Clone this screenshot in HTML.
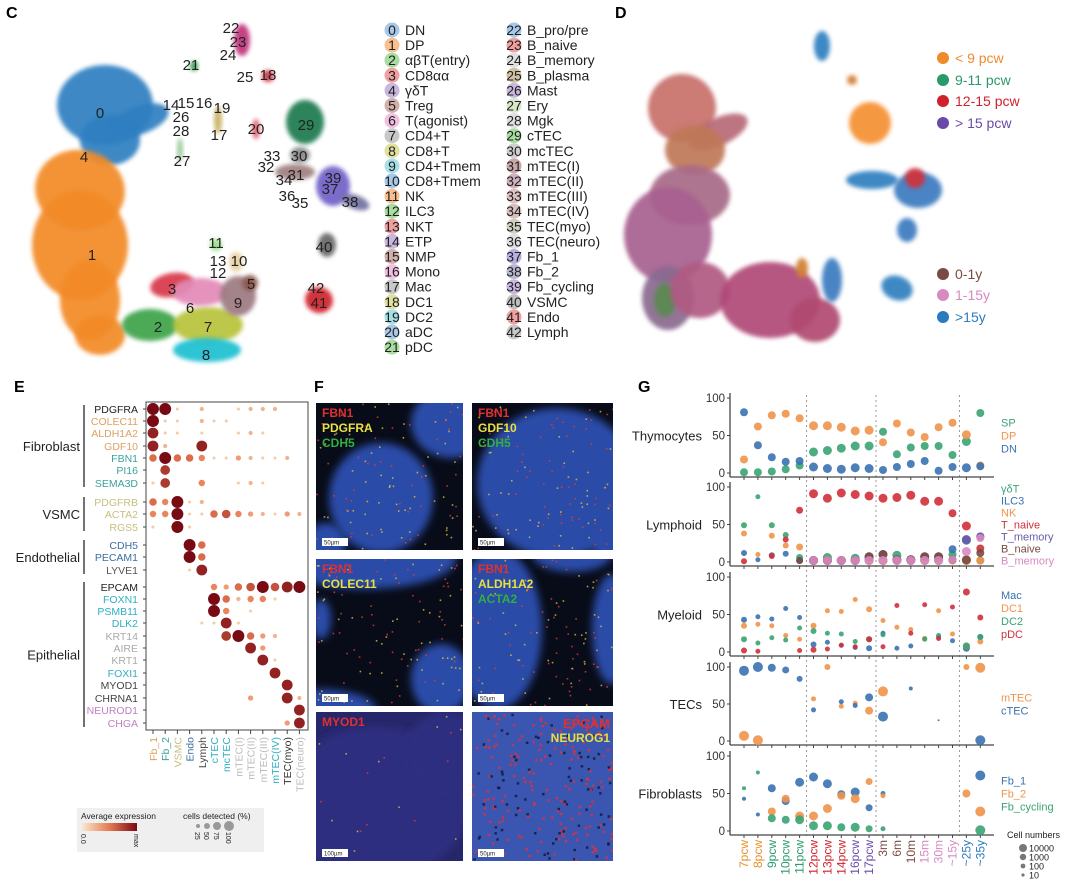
<!DOCTYPE html>
<html><head><meta charset="utf-8"><style>
body{margin:0;background:#fff;}
svg{display:block;font-family:"Liberation Sans",sans-serif;}
</style></head><body>
<svg id="fig" width="1080" height="895" viewBox="0 0 1080 895" xmlns="http://www.w3.org/2000/svg">
<defs>
<filter id="soft" x="-30%" y="-30%" width="160%" height="160%"><feGaussianBlur stdDeviation="4"/></filter>
<filter id="soft2" x="-30%" y="-30%" width="160%" height="160%"><feGaussianBlur stdDeviation="2"/></filter>
</defs>
<g font-weight="bold" font-size="16">
<text x="6" y="18">C</text>
<text x="615" y="18">D</text>
<text x="14" y="392">E</text>
<text x="314" y="392">F</text>
<text x="638" y="392">G</text>
</g>
<g id="umapC"></g>
<g id="legC"></g>
<g id="umapD"></g>
<g id="legD"></g>
<g id="dotE"></g>
<g id="panF"></g>
<g id="chartG"></g>
</svg>
<script>
const NS="http://www.w3.org/2000/svg";
function mk(tag,attrs,parent,txt){const e=document.createElementNS(NS,tag);for(const k in attrs)e.setAttribute(k,attrs[k]);if(txt!==undefined)e.textContent=txt;parent.appendChild(e);return e;}

// ---------- Panel C ----------
const gC=document.getElementById('umapC');
const blobsC=[
[105,105,48,40,'#2f7fc1',0],[110,140,30,25,'#2f7fc1',0],[140,120,30,14,'#2f7fc1',-20],
[80,190,45,40,'#f28a25',10],[80,245,48,55,'#f28a25',0],[90,300,30,40,'#f28a25',0],[100,335,25,20,'#f28a25',0],
[150,325,28,16,'#3da34a',0],[208,325,35,18,'#b8c33a',0],[207,350,34,12,'#1fbfd0',0],[172,285,22,12,'#d8394a',-10],
[200,292,28,14,'#e38ab8',0],[238,296,18,20,'#9c7a82',0],[250,283,8,8,'#8c564b',0],[216,245,6,6,'#98df8a',0],[236,262,7,10,'#e8d0a0',0],
[305,122,19,22,'#1a7a50',0],[295,172,20,8,'#a08080',0],[300,155,10,8,'#888',0],[333,186,17,20,'#7060c8',0],[355,202,15,7,'#7070a0',20],
[327,245,9,12,'#666',0],[319,300,14,13,'#d0202a',20],[242,40,8,16,'#c0307a',0],[268,76,6,6,'#d03040',0],[194,66,4,5,'#2a9a4a',0],[256,129,4,10,'#e06070',0],[218,120,4,14,'#c8b060',0],[180,150,3,12,'#98c898',0]];
blobsC.forEach(b=>{const e=mk('ellipse',{cx:b[0],cy:b[1],rx:b[2],ry:b[3],fill:b[4],transform:`rotate(${b[5]} ${b[0]} ${b[1]})`,filter:'url(#soft2)',opacity:.92},gC);

});
const clLab=[[0,100,118],[1,92,260],[2,158,332],[3,172,294],[4,84,162],[5,251,289],[6,190,313],[7,208,332],[8,206,360],[9,238,308],[10,239,266],[11,216,248],[12,218,278],[13,218,266],[14,171,110],[15,186,108],[16,204,108],[17,219,140],[18,268,80],[19,222,113],[20,256,134],[21,191,70],[22,231,33],[23,238,47],[24,228,60],[25,245,82],[26,181,122],[27,182,166],[28,181,136],[29,306,130],[30,299,161],[31,296,180],[32,266,172],[33,272,161],[34,284,185],[35,300,208],[36,287,201],[37,330,194],[38,350,207],[39,333,183],[40,324,252],[41,319,308],[42,316,293]];
clLab.forEach(l=>{const t=mk('text',{x:l[1],y:l[2],'font-size':15,'text-anchor':'middle',fill:'#222'},gC,String(l[0]));

});
const legNames=["DN","DP","αβT(entry)","CD8αα","γδT","Treg","T(agonist)","CD4+T","CD8+T","CD4+Tmem","CD8+Tmem","NK","ILC3","NKT","ETP","NMP","Mono","Mac","DC1","DC2","aDC","pDC","B_pro/pre","B_naive","B_memory","B_plasma","Mast","Ery","Mgk","cTEC","mcTEC","mTEC(I)","mTEC(II)","mTEC(III)","mTEC(IV)","TEC(myo)","TEC(neuro)","Fb_1","Fb_2","Fb_cycling","VSMC","Endo","Lymph"];
const legCols=["#a8c8e8","#f8c090","#a8dca0","#f0a0a0","#c8b8e0","#d0b0a8","#f0c0e0","#c8c8c8","#e0e0a0","#a8e0e8","#a8c8e8","#f8c090","#a8dca0","#f0a0a0","#c8b8e0","#d0b0a8","#f0c0e0","#c8c8c8","#e0e0a0","#a8e0e8","#a8c8e8","#a8dca0","#a8c8e8","#f0a0a0","#e0e0e0","#d0c0a0","#c8b8e0","#d8e8c8","#e0e0e0","#a8dca0","#d0d0d0","#c8a8a8","#d0b0c0","#e0c0c0","#d8c0c0","#d0d0c0","#e0e0e0","#b8b0e0","#b8b8d0","#c8b8e0","#c0c0c0","#f0a0a0","#c8c8c8"];
const gL=document.getElementById('legC');
legNames.forEach((n,i)=>{const col=i<22?0:1;const r=i<22?i:i-22;const x=col?507:385,y=35+r*15.1;
const c=mk('circle',{cx:x+7,cy:y-5,r:7.5,fill:legCols[i]},gL);


const t1=mk('text',{x:x+7,y:y,'font-size':14,'text-anchor':'middle',fill:'#222'},gL,String(i));


const t=mk('text',{x:x+20,y:y,'font-size':14,fill:'#222'},gL,n);

});

// ---------- Panel D ----------
const gD=document.getElementById('umapD');
const blobsD=[[682,108,34,34,'#c8706a',0],[718,132,32,14,'#b86a78',-25],[695,150,30,25,'#c07858',0],[690,195,40,30,'#a86a88',0],[668,235,44,48,'#a86090',0],[668,298,26,32,'#8a6a90',0],[665,300,11,17,'#5a8a50',0],
[700,290,30,28,'#b05a82',0],[770,300,50,38,'#b04a78',0],[815,320,25,22,'#b04a70',0],[832,280,10,22,'#3a7ac0',0],[802,268,6,10,'#d08030',0],
[870,123,21,21,'#f59030',0],[872,180,26,9,'#2f7fc0',0],[918,190,24,18,'#3a7ac0',0],[915,178,10,10,'#d0303a',0],[907,230,10,12,'#3a7ac0',0],[897,288,16,12,'#2f7fc0',20],[822,46,8,15,'#2f7fc0',0],[852,80,5,5,'#d08030',0]];
blobsD.forEach(b=>{const e=mk('ellipse',{cx:b[0],cy:b[1],rx:b[2],ry:b[3],fill:b[4],transform:`rotate(${b[5]} ${b[0]} ${b[1]})`,filter:'url(#soft2)',opacity:.92},gD);

});
const gLD=document.getElementById('legD');
const ageLeg=[["< 9 pcw","#f08a2a",58],["9-11 pcw","#2a9a6a",80],["12-15 pcw","#d0202a",101],["> 15 pcw","#6a4aa8",123],["0-1y","#7a4a44",274],["1-15y","#d88ac0",295],[">15y","#2a7ac0",317]];
ageLeg.forEach(a=>{const c=mk('circle',{cx:943,cy:a[2],r:6,fill:a[1]},gLD);


const t=mk('text',{x:955,y:a[2]+5,'font-size':14,fill:a[1]},gLD,a[0]);

});

// ---------- Panel E ----------
const genes=["PDGFRA","COLEC11","ALDH1A2","GDF10","FBN1","PI16","SEMA3D","PDGFRB","ACTA2","RGS5","CDH5","PECAM1","LYVE1","EPCAM","FOXN1","PSMB11","DLK2","KRT14","AIRE","KRT1","FOXI1","MYOD1","CHRNA1","NEUROD1","CHGA"];
const geneCols=["#222","#e0a060","#e0a060","#e0a060","#3aa39a","#3aa39a","#3aa39a","#c8c080","#c8c080","#c8c080","#3a6fa0","#3a6fa0","#555","#222","#30b0c0","#30b0c0","#30b0c0","#aaa","#aaa","#aaa","#30b0c0","#444","#444","#c080c0","#c080c0"];
const cellTypes=["Fb_1","Fb_2","VSMC","Endo","Lymph","cTEC","mcTEC","mTEC(I)","mTEC(II)","mTEC(III)","mTEC(IV)","TEC(myo)","TEC(neuro)"];
const ctCols=["#e0a060","#3aa39a","#c8c080","#3a6fa0","#444","#30b0c0","#30b0c0","#bbb","#bbb","#bbb","#30b0c0","#333","#bbb"];
const expr=[
"9910200122200","9110211000000","8110100121000","8200800000000","5955411321120","0700000000000","1700400121000",
"5491200000000","4491156432132","1091000000000","0009500000000","0009500000000","0001800000000",
"0000043569689","0000095244100","0000094010000","0000118100000","0000007953200","0000000083000","0000000008100","0000000000800","0000000000080","0000000030082","0000000000008","0000000000038"];
const gE=document.getElementById('dotE');
const rowY=[409,421,433,446,458,470,483, 502,514,527, 545,557,570, 587,599,611,623,636,648,660,673,685,698,710,723];
const colX=i=>153+i*12.2;
mk('rect',{x:146,y:402,width:162,height:328,fill:'none',stroke:'#444','stroke-width':1},gE);
function lerp(a,b,t){return Math.round(a+(b-a)*t);}
function heat(v){const t=v/9;const c1=[248,228,196],c2=[232,120,80],c3=[120,10,20];let r,g,b;if(t<.5){const u=t*2;r=lerp(c1[0],c2[0],u);g=lerp(c1[1],c2[1],u);b=lerp(c1[2],c2[2],u);}else{const u=(t-.5)*2;r=lerp(c2[0],c3[0],u);g=lerp(c2[1],c3[1],u);b=lerp(c2[2],c3[2],u);}return `rgb(${r},${g},${b})`;}
genes.forEach((g,i)=>{const t=mk('text',{x:138,y:rowY[i]+4,'font-size':10.5,'text-anchor':'end',fill:geneCols[i]},gE,g);


mk('line',{x1:143,x2:146,y1:rowY[i],y2:rowY[i],stroke:'#444'},gE);
expr[i].split('').forEach((ch,j)=>{const v=+ch;if(!v)return;const c=mk('circle',{cx:colX(j),cy:rowY[i],r:1+v*0.55,fill:heat(v)},gE);

});});
cellTypes.forEach((c,j)=>{mk('line',{x1:colX(j),x2:colX(j),y1:730,y2:734,stroke:'#444'},gE);
const t=mk('text',{x:0,y:0,'font-size':10.5,'text-anchor':'end',fill:ctCols[j],transform:`translate(${colX(j)+4},737) rotate(-90)`},gE,c);

});
const groups=[["Fibroblast",405,487],["VSMC",497,531],["Endothelial",540,574],["Epithelial",582,727]];
groups.forEach(g=>{mk('line',{x1:84,x2:84,y1:g[1],y2:g[2],stroke:'#444','stroke-width':1.5},gE);
const t=mk('text',{x:80,y:(g[1]+g[2])/2+5,'font-size':13,'text-anchor':'end',fill:'#222'},gE,g[0]);

});
mk('rect',{x:77,y:808,width:187,height:44,fill:'#efefef'},gE);
mk('text',{x:81,y:819,'font-size':8.5,fill:'#222'},gE,'Average expression');
const lg=mk('linearGradient',{id:'hg'},gE);mk('stop',{offset:0,'stop-color':'#fbe8d0'},lg);mk('stop',{offset:.5,'stop-color':'#e47a52'},lg);mk('stop',{offset:1,'stop-color':'#7a0a14'},lg);
mk('rect',{x:82,y:823,width:55,height:8,fill:'url(#hg)'},gE);
mk('text',{x:0,y:0,'font-size':7,fill:'#222',transform:'translate(81,834) rotate(90)'},gE,'0.0');
mk('text',{x:0,y:0,'font-size':7,fill:'#222',transform:'translate(134,834) rotate(90)'},gE,'max');
mk('text',{x:183,y:819,'font-size':8.5,fill:'#222'},gE,'cells detected (%)');
[[198,2,'25'],[207,3,'50'],[217,4,'75'],[229,5,'100']].forEach(s=>{mk('circle',{cx:s[0],cy:826,r:s[1],fill:'#999'},gE);mk('text',{x:0,y:0,'font-size':7,fill:'#222',transform:`translate(${s[0]-3},832) rotate(90)`},gE,s[2]);});

// ---------- Panel F ----------
const gF=document.getElementById('panF');
const tiles=[[316,403,['FBN1','#e03030'],['PDGFRA','#e8e040'],['CDH5','#30b040'],'a'],[472,403,['FBN1','#e03030'],['GDF10','#e8e040'],['CDH5','#30b040'],'b'],
[316,559,['FBN1','#e03030'],['COLEC11','#e8e040'],null,'c'],[472,559,['FBN1','#e03030'],['ALDH1A2','#e8e040'],['ACTA2','#30b040'],'d'],
[316,712,['MYOD1','#e03030'],null,null,'e'],[472,712,null,null,null,'f']];
// deterministic speckles
let seed=7;function rnd(){seed=(seed*16807)%2147483647;return seed/2147483647;}
tiles.forEach((t,k)=>{const x=t[0],y=t[1],w=k%2?141:147,h=k>=4?149:147;
const g=mk('g',{},gF);
const cp=mk('clipPath',{id:'cp'+k},g);mk('rect',{x,y,width:w,height:h},cp);
const gg=mk('g',{'clip-path':`url(#cp${k})`},g);
const bg=k==4?'#26266a':(k==5?'#3a56b0':'#080c18');
mk('rect',{x,y,width:w,height:h,fill:bg},gg);
const blobs={0:[[65,95,52,55],[135,20,40,35],[10,140,20,20]],1:[[85,80,80,75],[140,140,20,20]],2:[[50,0,90,30],[125,120,30,35],[0,150,60,20],[5,60,10,20]],3:[[25,70,45,80],[140,70,20,55],[100,-5,40,18]],4:[[60,90,95,75],[130,40,40,40]],5:[]}[k];
blobs.forEach(b=>mk('ellipse',{cx:x+b[0],cy:y+b[1],rx:b[2],ry:b[3],fill:k==4?'#2e2e80':'#2c4ca8',filter:'url(#soft)'},gg));
const nsp=k==5?260:(k==4?20:110);
for(let i=0;i<nsp;i++){const px=x+rnd()*w,py=y+rnd()*h;const col=k==5?(rnd()<.7?'#e03040':'#101838'):(rnd()<.5?'#e04030':'#e0c040');mk('rect',{x:px,y:py,width:k==5?2.5:1.6,height:k==5?2.5:1.6,fill:col,opacity:.8},gg);}
let ly=y+14;[t[2],t[3],t[4]].forEach(l=>{if(l){mk('text',{x:x+6,y:ly,'font-size':12,'font-weight':'bold',fill:l[1]},g,l[0]);}ly+=15;});
if(k==5){mk('text',{x:x+w-3,y:y+16,'font-size':13,'font-weight':'bold','text-anchor':'end',fill:'#e03030'},g,'EPCAM');mk('text',{x:x+w-3,y:y+30,'font-size':12,'font-weight':'bold','text-anchor':'end',fill:'#e8e040'},g,'NEUROG1');}
mk('rect',{x:x+6,y:y+h-12,width:26,height:8,fill:'#fff'},g);
mk('text',{x:x+8,y:y+h-5.5,'font-size':6,fill:'#222'},g,k==4?'100µm':'50µm');});

// ---------- Panel G ----------
const timepoints=["7pcw","8pcw","9pcw","10pcw","11pcw","12pcw","13pcw","14pcw","16pcw","17pcw","3m","6m","10m","15m","30m","~15y","~25y","~35y"];
const tpCols=["#e8902a","#e8902a","#2a9a6a","#2a9a6a","#2a9a6a","#d0202a","#d0202a","#d0202a","#6a4aa8","#6a4aa8","#7a4a44","#7a4a44","#7a4a44","#d88ac0","#d88ac0","#d88ac0","#2a7ac0","#2a7ac0"];
const yTicks=[0,50,100];
const thyDN=[81,37,21,15,16,8,6,5,7,6,4,8,12,16,3,8,7,9];
const thyDP=[18,62,77,79,73,63,63,61,56,57,41,66,54,48,61,67,51,10];
const thySP=[1,1,2,5,10,28,30,33,36,36,55,25,34,36,36,24,42,80];
const thySize=[4,4,4,4,4,4.5,4.5,4.5,4.5,4.5,4,4,4,4,4,4,4.5,4];
const lymGD=[49,87,49,36,6,2,6,2,5,4,2,9,3,3,3,10,2,2];
const lymILC3=[12,3,9,11,2,2,2,2,2,2,2,2,2,2,2,17,29,34];
const lymNK=[38,10,35,22,20,2,2,2,2,2,2,2,2,2,2,2,2,2];
const lymTn=[1,null,8,30,69,91,85,92,90,88,85,86,89,81,81,65,48,18];
const lymTm=[null,null,null,null,null,2,2,2,2,7,10,3,3,7,7,3,30,34];
const lymBn=[null,null,null,null,2,2,2,2,2,7,10,3,3,7,7,3,3,12];
const lymBm=[null,null,null,null,null,2,2,2,2,2,2,2,2,2,2,3,14,32];
const lymSize=[3,2.5,3,3,3.5,4.5,4.5,4.5,4.5,4.5,4.5,4.5,4.5,4.5,4.5,4,4.5,4];
const myMac=[43,47,44,58,46,10,13,9,6,5,25,5,8,18,20,15,5,20];
const myDC1=[35,37,35,22,17,35,55,54,70,57,42,33,30,18,55,24,8,14];
const myDC2=[17,12,19,16,32,28,25,24,14,17,23,null,null,17,22,null,8,20];
const myPDC=[2,1,null,null,2,3,4,9,7,17,7,62,25,63,18,60,80,46];
const mySize=[3,2.5,2.5,2.5,2.5,3,2.5,2.5,2.5,3,2.5,2.5,2.5,2.5,2.5,2.5,3.5,3];
const tecM=[7,1,null,null,null,57,100,47,51,41,67,null,null,null,null,null,100,99];
const tecC=[95,100,99,96,84,42,null,53,48,59,33,null,71,null,28,null,null,1];
const tecSize=[5,5,4,3.5,3,2.5,3,2.5,2.5,4,5,1,2,1,1,1,3,5];
const fbF1=[43,22,57,40,65,72,63,49,52,31,50,null,null,null,null,null,null,74];
const fbF2=[null,null,26,43,20,20,30,47,43,66,47,null,null,null,null,null,50,26];
const fbCyc=[57,78,17,15,15,7,7,5,5,3,3,null,null,null,null,null,null,1];
const fbSize=[2,2,4,4,4.5,4.5,4.5,4,4.5,3.5,2.5,1,1,1,1,1,4,5];

const panels=[
 {name:"Thymocytes",top:398,bot:473,size:thySize,series:[["SP",thySP,"#3aa372"],["DP",thyDP,"#f0944a"],["DN",thyDN,"#3a72b0"]]},
 {name:"Lymphoid",top:487,bot:562,size:lymSize,series:[["γδT",lymGD,"#3aa372"],["ILC3",lymILC3,"#3a72b0"],["NK",lymNK,"#f0944a"],["T_naive",lymTn,"#d0303a"],["T_memory",lymTm,"#6a5aa8"],["B_naive",lymBn,"#7a4a44"],["B_memory",lymBm,"#d88ac0"]]},
 {name:"Myeloid",top:577,bot:652,size:mySize,series:[["Mac",myMac,"#3a72b0"],["DC1",myDC1,"#f0944a"],["DC2",myDC2,"#3aa372"],["pDC",myPDC,"#d0303a"]]},
 {name:"TECs",top:667,bot:741,size:tecSize,series:[["mTEC",tecM,"#f0944a"],["cTEC",tecC,"#3a72b0"]]},
 {name:"Fibroblasts",top:756,bot:831,size:fbSize,series:[["Fb_1",fbF1,"#3a72b0"],["Fb_2",fbF2,"#f0944a"],["Fb_cycling",fbCyc,"#3aa372"]]}];
const gG=document.getElementById('chartG');
const x0=744,dx=13.9,axL=730,axR=994;
const xScale=i=>x0+i*dx;
[5,10,16].forEach(i=>{const xv=(xScale(i-1)+xScale(i))/2;const l=mk('line',{x1:xv,x2:xv,y1:395,y2:836,stroke:'#999','stroke-dasharray':'2,3','stroke-width':1},gG);

});
panels.forEach(p=>{const y=v=>p.bot-(v/100)*(p.bot-p.top);
const g=mk('g',{},gG);
mk('line',{x1:axL,x2:axL,y1:p.top-5,y2:p.bot+4,stroke:'#444','stroke-width':1.3},g);
mk('line',{x1:axL,x2:axR,y1:p.bot+4,y2:p.bot+4,stroke:'#444','stroke-width':1.3},g);
yTicks.forEach(t=>{mk('line',{x1:axL-3,x2:axL,y1:y(t),y2:y(t),stroke:'#444'},g);mk('text',{x:axL-5,y:y(t)+4,'font-size':11.5,'text-anchor':'end',fill:'#333'},g,String(t));});
timepoints.forEach((tp,i)=>mk('line',{x1:xScale(i),x2:xScale(i),y1:p.bot+4,y2:p.bot+7,stroke:'#444'},g));
const nl=mk('text',{x:702,y:y(50)+5,'font-size':13,'text-anchor':'end',fill:'#222'},g,p.name);


p.series.forEach(s=>{s[1].forEach((v,i)=>{if(v===null)return;const c=mk('circle',{cx:xScale(i),cy:y(v),r:p.size[i],fill:s[2],opacity:.9},g);

});});
const n=p.series.length,lh=p.name==="Lymphoid"?12:13;const ly0=(p.top+p.bot)/2-(n-1)*lh/2;
p.series.forEach((s,k)=>{const t=mk('text',{x:1001,y:ly0+k*lh+4,'font-size':11,fill:s[2]},g,s[0]);

});});
timepoints.forEach((tp,i)=>{const t=mk('text',{x:0,y:0,'font-size':12,'text-anchor':'end',fill:tpCols[i],transform:`translate(${xScale(i)+4},840) rotate(-90)`},gG,tp);

});
mk('text',{x:1007,y:838,'font-size':9,fill:'#222'},gG,'Cell numbers');
[[10000,4,848],[1000,3.2,857],[100,2.4,866],[10,1.6,875]].forEach(s=>{mk('circle',{cx:1023,cy:s[2],r:s[1],fill:'#777'},gG);mk('text',{x:1029,y:s[2]+3.5,'font-size':9,fill:'#222'},gG,String(s[0]));});
</script>
</body></html>
